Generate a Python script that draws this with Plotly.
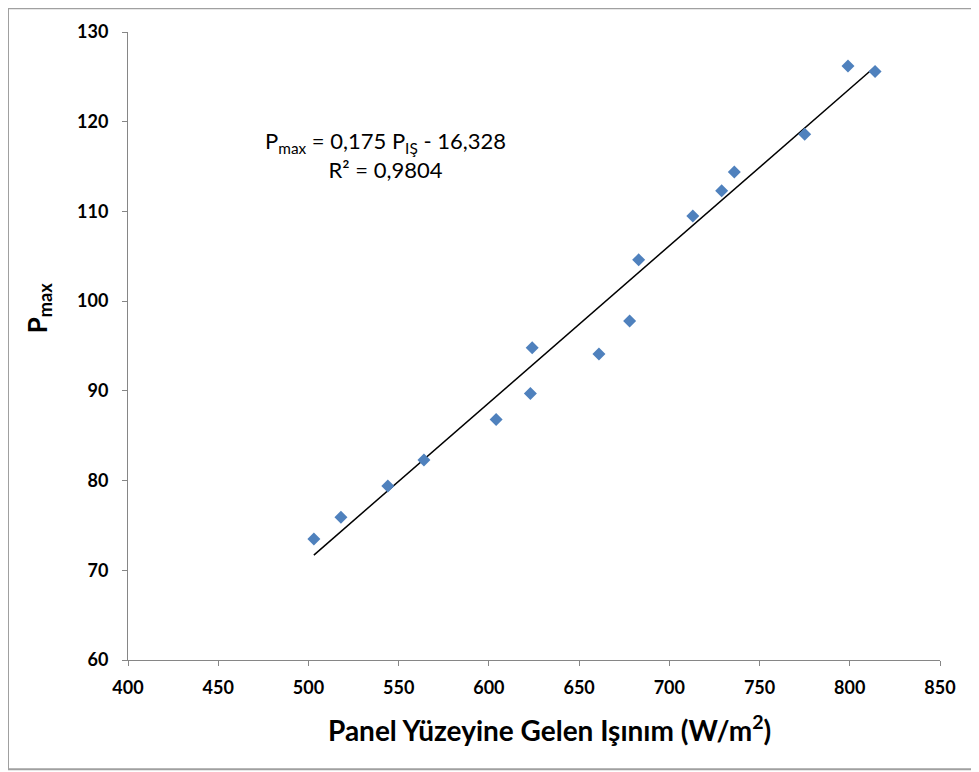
import plotly.graph_objects as go

# Data
irradiance = [503, 518, 544, 564, 604, 623, 624, 661, 678, 683, 713, 729, 736, 775, 799, 814]
p_max = [73.5, 75.9, 79.4, 82.3, 86.8, 89.7, 94.8, 94.1, 97.8, 104.6, 109.5, 112.3, 114.4, 118.6, 126.2, 125.6]

# Linear trend line (as given on the chart)
slope = 0.175
intercept = -16.328
r2_text = "0,9804"

x_ticks = [400, 450, 500, 550, 600, 650, 700, 750, 800, 850]
y_ticks = [60, 70, 80, 90, 100, 110, 120, 130]

FONT = "Lato"

trend_x = [min(irradiance), max(irradiance)]
trend_y = [slope * v + intercept for v in trend_x]

fig = go.Figure()
fig.add_trace(go.Scatter(
    x=trend_x, y=trend_y, mode="lines",
    line=dict(color="black", width=1.5), showlegend=False, hoverinfo="skip"))
fig.add_trace(go.Scatter(
    x=irradiance, y=p_max, mode="markers",
    marker=dict(symbol="diamond", size=10, color="#4F81BD"),
    showlegend=False))

fig.update_layout(
    width=979, height=772,
    margin=dict(l=120, r=47, t=20, b=120),
    paper_bgcolor="white", plot_bgcolor="white",
    font=dict(family=FONT, color="black"),
    xaxis=dict(
        range=[400, 850], tickvals=x_ticks, ticktext=[str(v) for v in x_ticks],
        showgrid=False, zeroline=False, showline=True, linecolor="#868686", linewidth=1,
        ticks="outside", ticklen=5, tickcolor="#868686", ticklabelstandoff=6,
        tickfont=dict(family=FONT, size=18, color="black", weight="bold"),
    ),
    yaxis=dict(
        range=[60, 130], tickvals=y_ticks, ticktext=[str(v) for v in y_ticks],
        showgrid=False, zeroline=False, showline=True, linecolor="#868686", linewidth=1,
        ticks="outside", ticklen=5, tickcolor="#868686", ticklabelstandoff=10,
        tickfont=dict(family=FONT, size=18, color="black", weight="bold"),
    ),
    annotations=[
        dict(
            x=(385 - 128) / 812, y=(660 - 152) / 632, xref="paper", yref="paper",
            xanchor="center", yanchor="middle",
            text=f"P<sub>max</sub> = 0,175 P<sub>IŞ</sub> - 16,328<br>R² = {r2_text}",
            showarrow=False, align="center",
            font=dict(family=FONT, size=22, color="black")),
        dict(
            x=(38 - 128) / 812, y=(660 - 306) / 632, xref="paper", yref="paper",
            xanchor="center", yanchor="middle", textangle=-90,
            text="P<sub>max</sub>", showarrow=False,
            font=dict(family=FONT, size=26, color="black", weight="bold")),
        dict(
            x=(549 - 128) / 812, y=(660 - 729) / 632, xref="paper", yref="paper",
            xanchor="center", yanchor="middle",
            text="Panel Yüzeyine Gelen Işınım (W/m<sup>2</sup>)", showarrow=False,
            font=dict(family=FONT, size=28, color="black", weight="bold")),
    ],
    shapes=[dict(
        type="rect", xref="paper", yref="paper",
        x0=(8 - 128) / 812, x1=(990 - 128) / 812,
        y0=(660 - 770) / 632, y1=(660 - 4) / 632,
        line=dict(color="#A0A0A0", width=2), fillcolor="rgba(0,0,0,0)")],
)

fig.write_html("out.html")
